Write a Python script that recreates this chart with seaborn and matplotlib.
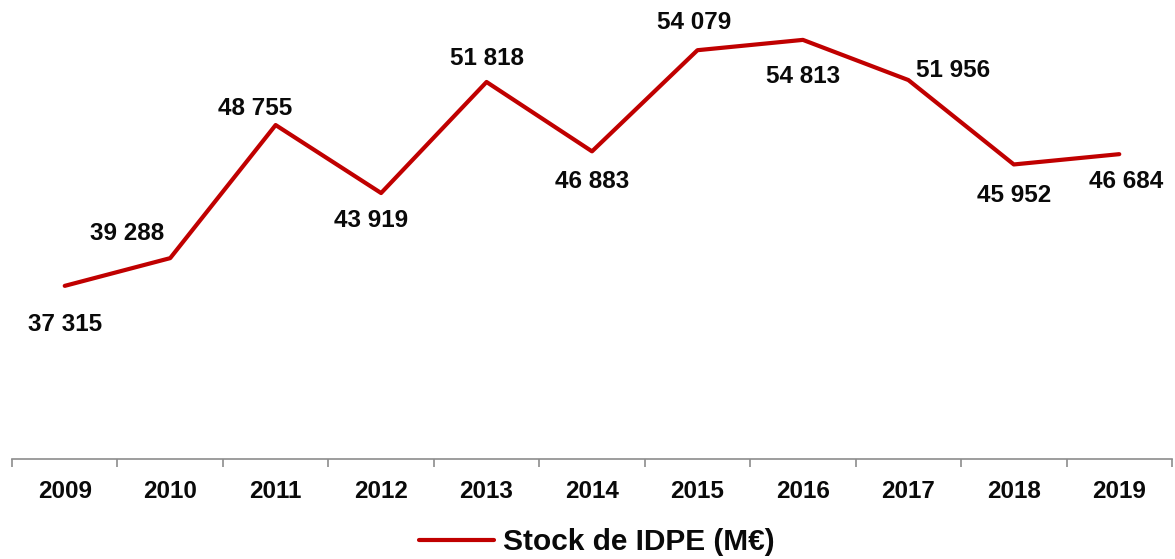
import matplotlib
matplotlib.use("Agg")
import matplotlib.pyplot as plt
import seaborn as sns
import pandas as pd
import numpy as np
from matplotlib.lines import Line2D

years = ["2009", "2010", "2011", "2012", "2013", "2014", "2015", "2016", "2017", "2018", "2019"]
stock = [37315, 39288, 48755, 43919, 51818, 46883, 54079, 54813, 51956, 45952, 46684]
series_name = "Stock de IDPE (M€)"

# label offsets in pixels (dx, dy), y down
label_offsets = [(0, 39), (-43, -25), (-21, -17), (-10, 27), (0, -23), (0, 30),
                 (-3, -28), (0, 37), (45, -10), (0, 31), (7, 27)]

sns.set_style("white")
plt.rcParams['font.family'] = ['Liberation Sans', 'DejaVu Sans']

df = pd.DataFrame({"idx": np.arange(len(years)), "value": stock, "serie": series_name})

fig = plt.figure(figsize=(11.75, 5.59), dpi=100)
ax = fig.add_axes([12 / 1175, 100 / 559, 1160 / 1175, 459 / 559])

sns.lineplot(data=df, x="idx", y="value", hue="serie", palette=["#C00000"],
             linewidth=3, ax=ax, legend=False)

ax.set_xlim(-0.5, len(years) - 0.5)
ax.set_ylim(25000, 57650)

for i, v in enumerate(stock):
    dx, dy = label_offsets[i]
    ax.annotate(f"{v:,}".replace(",", " "), (i, v), xytext=(dx * 0.72, -dy * 0.72),
                textcoords="offset points", ha="center", va="center",
                fontsize=17.5, fontweight="bold", color="#0a0a0a")

for s in ["top", "right", "left"]:
    ax.spines[s].set_visible(False)
ax.spines["bottom"].set_color("#8c8c8c")
ax.spines["bottom"].set_linewidth(1.2)
ax.set_yticks([])
ax.set_xticks(np.arange(len(years)))
ax.set_xticklabels(years, fontsize=17.5, fontweight="bold", color="#0a0a0a")
ax.set_xticks(np.arange(len(years) + 1) - 0.5, minor=True)
ax.tick_params(axis="x", which="major", bottom=False, length=0, pad=15)
ax.tick_params(axis="x", which="minor", bottom=True, length=6, width=1.2,
               color="#8c8c8c", direction="out")
ax.set_xlabel("")
ax.set_ylabel("")

# legend
handle = Line2D([], [], color="#C00000", linewidth=3)
fig.legend([handle], [series_name], loc="center", bbox_to_anchor=(0.508, 0.03),
           frameon=False, handlelength=2.5, handletextpad=0.3, borderpad=0.1,
           prop={"size": 21.5, "weight": "bold"}, labelcolor="#0a0a0a")

fig.savefig("out.png", dpi=100)
